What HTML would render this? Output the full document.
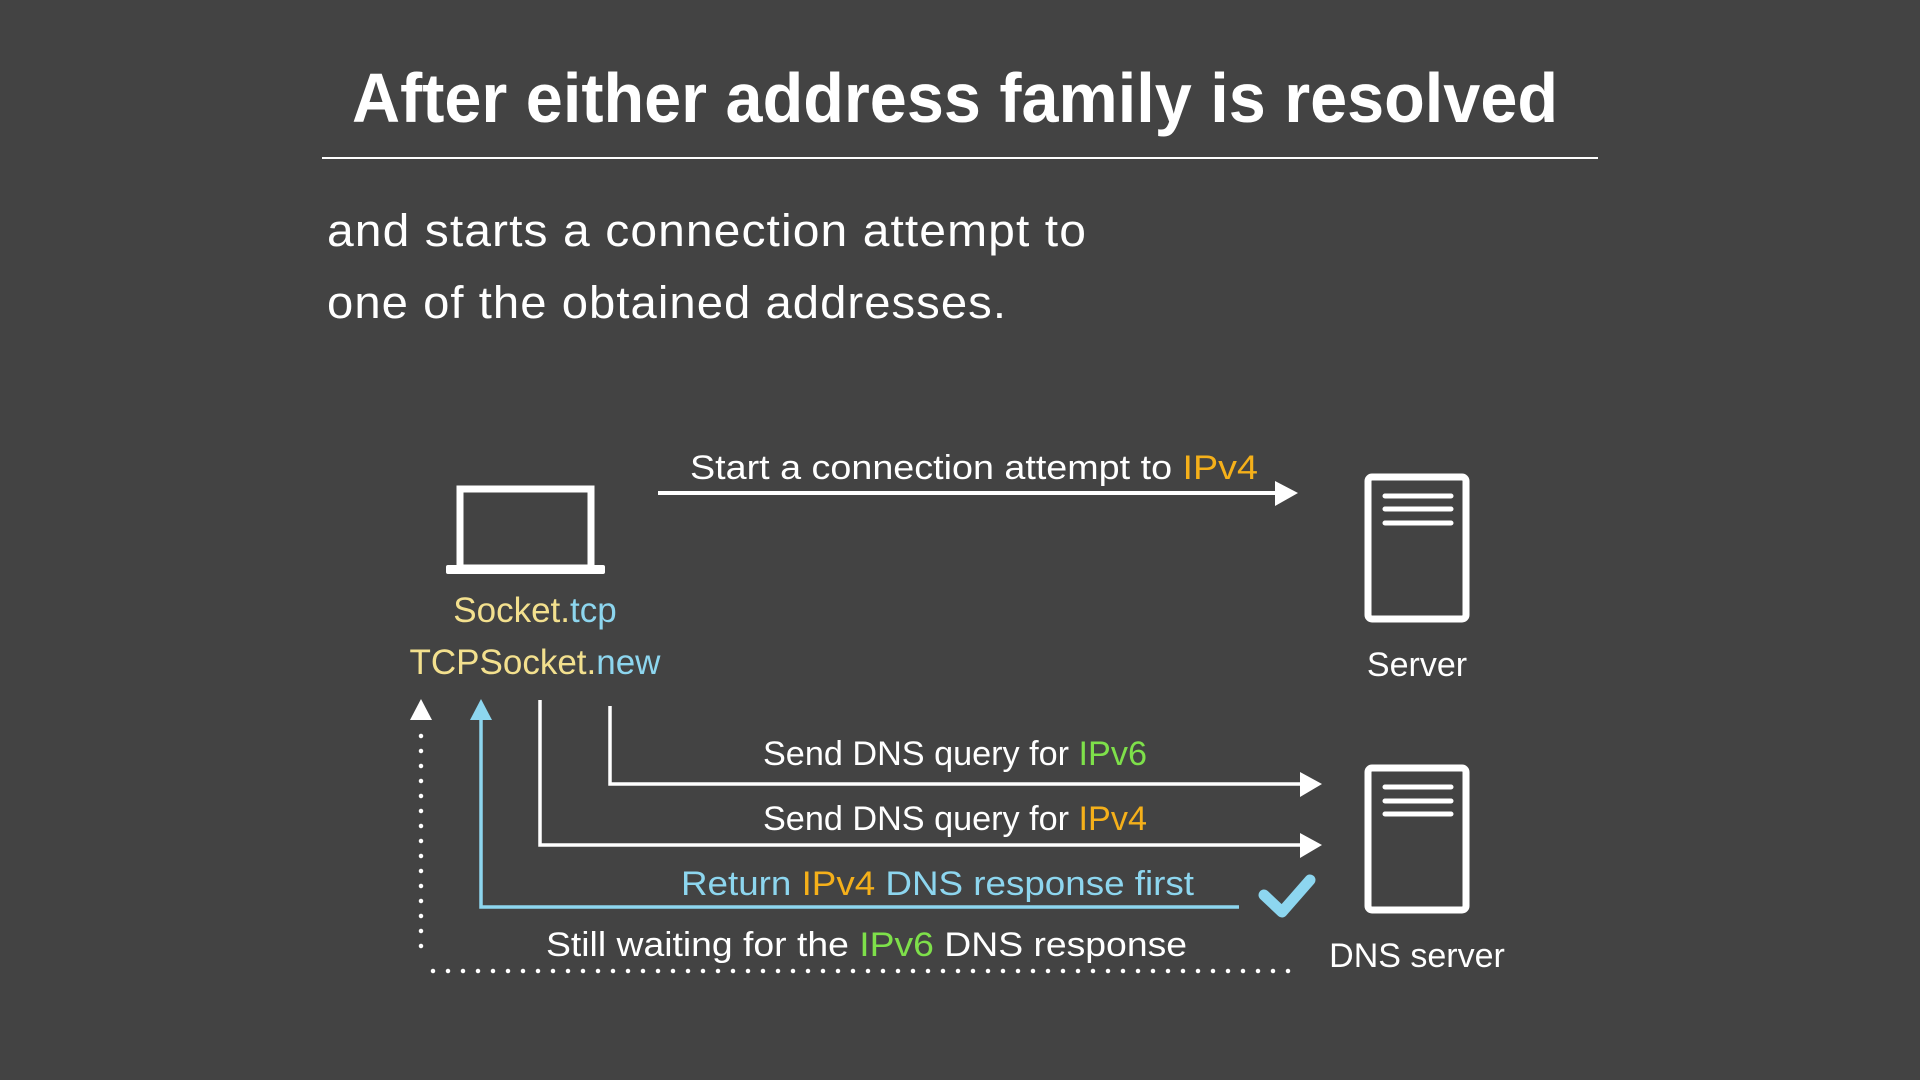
<!DOCTYPE html>
<html><head><meta charset="utf-8"><style>
html,body{margin:0;padding:0;background:#434343;}
svg{display:block;}
text{font-family:"Liberation Sans",sans-serif;fill:#fff;}
</style></head><body>
<svg width="1920" height="1080" viewBox="0 0 1920 1080" xmlns="http://www.w3.org/2000/svg">
<rect width="1920" height="1080" fill="#434343"/>
<text x="352" y="122" font-size="70" font-weight="bold" textLength="1206" lengthAdjust="spacingAndGlyphs">After either address family is resolved</text>
<rect x="322" y="157" width="1276" height="2" fill="#fff"/>
<text x="327" y="246" font-size="45" textLength="760" lengthAdjust="spacingAndGlyphs" letter-spacing="1">and starts a connection attempt to</text>
<text x="327" y="318" font-size="45" textLength="680" lengthAdjust="spacingAndGlyphs" letter-spacing="1">one of the obtained addresses.</text>

<!-- laptop -->
<rect x="460" y="489" width="131" height="79" fill="none" stroke="#fff" stroke-width="7"/>
<rect x="446" y="565" width="159" height="9" rx="2" fill="#fff"/>
<text x="535" y="622" font-size="35" text-anchor="middle"><tspan style="fill:#f3e08e">Socket.</tspan><tspan style="fill:#8dd6ef">tcp</tspan></text>
<text x="535" y="674" font-size="35" text-anchor="middle"><tspan style="fill:#f3e08e">TCPSocket.</tspan><tspan style="fill:#8dd6ef">new</tspan></text>

<!-- servers -->
<rect x="1368" y="477" width="98" height="142" rx="4" fill="none" stroke="#fff" stroke-width="7"/>
<g stroke="#fff" stroke-width="5" stroke-linecap="round"><line x1="1385" y1="496" x2="1451" y2="496"/><line x1="1385" y1="509" x2="1451" y2="509"/><line x1="1385" y1="523" x2="1451" y2="523"/></g>
<text x="1417" y="676" font-size="34" text-anchor="middle">Server</text>
<rect x="1368" y="768" width="98" height="142" rx="4" fill="none" stroke="#fff" stroke-width="7"/>
<g stroke="#fff" stroke-width="5" stroke-linecap="round"><line x1="1385" y1="787" x2="1451" y2="787"/><line x1="1385" y1="801" x2="1451" y2="801"/><line x1="1385" y1="814" x2="1451" y2="814"/></g>
<text x="1417" y="967" font-size="34" text-anchor="middle">DNS server</text>

<!-- top arrow -->
<text x="690" y="479" font-size="34" textLength="568" lengthAdjust="spacingAndGlyphs">Start a connection attempt to <tspan style="fill:#f5b01a">IPv4</tspan></text>
<line x1="658" y1="493" x2="1285" y2="493" stroke="#fff" stroke-width="4"/>
<polygon points="1275,481 1298,493 1275,506" fill="#fff"/>

<!-- DNS queries -->
<polyline points="610,706 610,784 1310,784" fill="none" stroke="#fff" stroke-width="3.5"/>
<polygon points="1300,772 1322,784 1300,797" fill="#fff"/>
<text x="763" y="765" font-size="34" textLength="384" lengthAdjust="spacingAndGlyphs">Send DNS query for <tspan style="fill:#7ee04a">IPv6</tspan></text>
<polyline points="540,700 540,845 1310,845" fill="none" stroke="#fff" stroke-width="3.5"/>
<polygon points="1300,833 1322,845 1300,858" fill="#fff"/>
<text x="763" y="830" font-size="34" textLength="384" lengthAdjust="spacingAndGlyphs">Send DNS query for <tspan style="fill:#f5b01a">IPv4</tspan></text>

<!-- blue return -->
<polyline points="481,712 481,907 1239,907" fill="none" stroke="#8dd6ef" stroke-width="3.5"/>
<polygon points="481,699 470,720 492,720" fill="#8dd6ef"/>
<text x="681" y="895" font-size="34" textLength="513" lengthAdjust="spacingAndGlyphs" style="fill:#8dd6ef">Return <tspan style="fill:#f5b01a">IPv4</tspan> DNS response first</text>
<polyline points="1264,895 1282,912 1310,880" fill="none" stroke="#8dd6ef" stroke-width="11" stroke-linecap="round" stroke-linejoin="round"/>

<!-- dotted -->
<polygon points="421,699 410,720 432,720" fill="#fff"/>
<line x1="421" y1="736" x2="421" y2="955" stroke="#fff" stroke-width="4.5" stroke-dasharray="0 15" stroke-linecap="round"/>
<line x1="433" y1="971" x2="1300" y2="971" stroke="#fff" stroke-width="4.5" stroke-dasharray="0 15" stroke-linecap="round"/>
<text x="546" y="956" font-size="34" textLength="641" lengthAdjust="spacingAndGlyphs">Still waiting for the <tspan style="fill:#7ee04a">IPv6</tspan> DNS response</text>
</svg>
</body></html>
